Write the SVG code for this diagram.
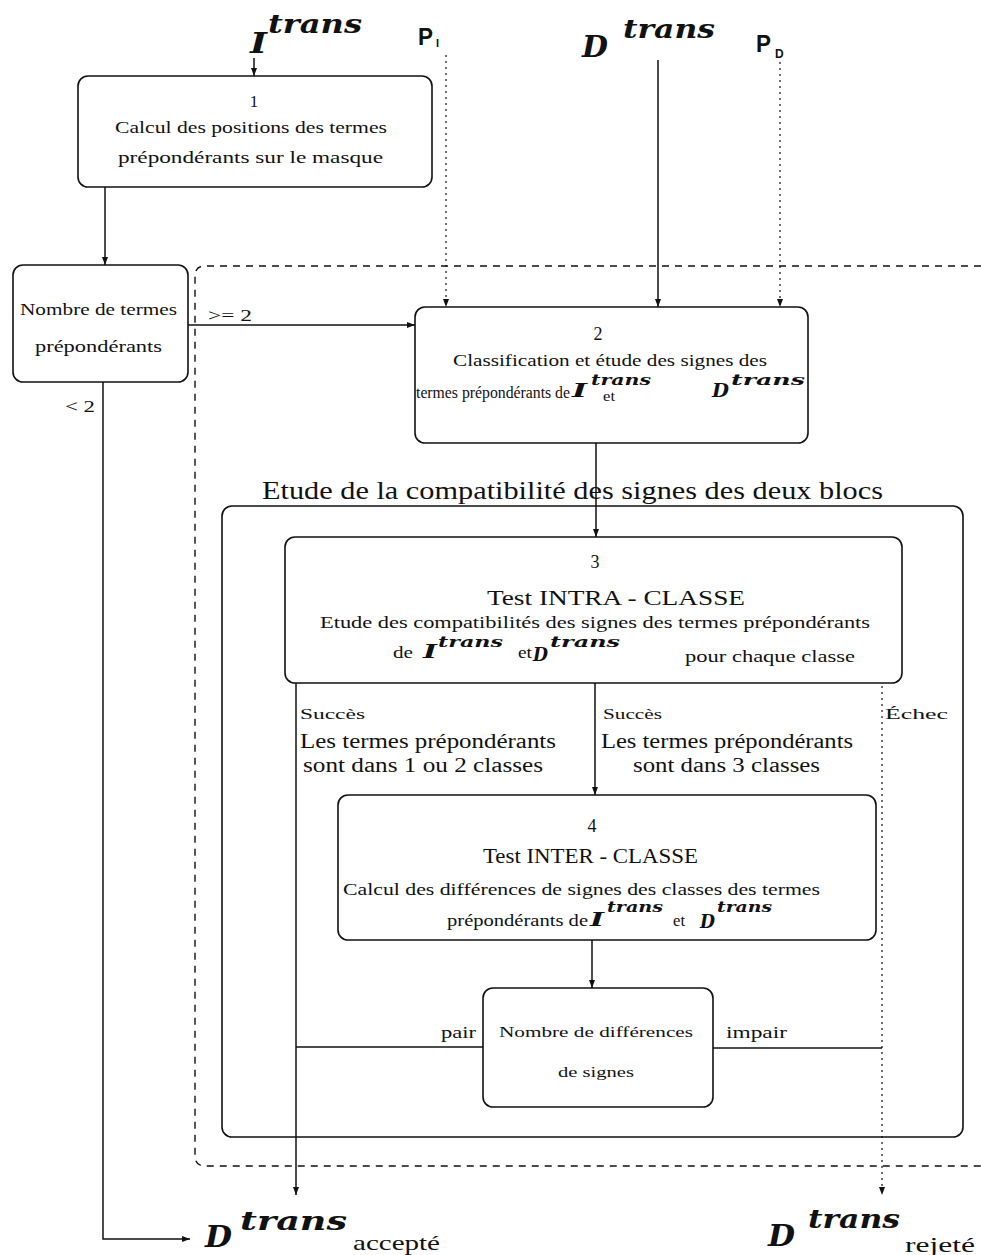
<svg xmlns="http://www.w3.org/2000/svg" width="981" height="1255" viewBox="0 0 981 1255">
  <style>
    .box { fill: none; stroke: #111; stroke-width: 1.6; }
    .ln { fill: none; stroke: #111; stroke-width: 1.5; }
    .dot { stroke-dasharray: 2 4; stroke-width: 1.2; }
    .dash { stroke-dasharray: 7 6; stroke-width: 1.4; }
    text { fill: #111; }
    .t { font-family: "Liberation Serif", "Times New Roman", serif; }
    .bi { font-family: "DejaVu Serif", "Liberation Serif", serif; font-weight: bold; font-style: italic; }
    .p { font-family: "Liberation Sans", Arial, sans-serif; font-weight: bold; }
  </style>
  <defs>
    <marker id="arr" markerUnits="userSpaceOnUse" markerWidth="8" markerHeight="8" refX="8" refY="3" orient="auto">
      <path d="M0,0 L8,3 L0,6 z" fill="#111"/>
    </marker>
  </defs>

  <rect width="981" height="1255" fill="#fff"/>

  <!-- inputs -->
  <g id="input-I">
    <text class="bi" x="250" y="53" font-size="28" textLength="17" lengthAdjust="spacingAndGlyphs">I</text>
    <text class="bi" x="268" y="33" font-size="26" textLength="94" lengthAdjust="spacingAndGlyphs">trans</text>
  </g>
  <g id="input-PI">
    <text class="p" x="418" y="45" font-size="24" textLength="15" lengthAdjust="spacingAndGlyphs">P</text>
    <text class="p" x="436" y="47" font-size="11">I</text>
  </g>
  <g id="input-D">
    <text class="bi" x="582" y="57" font-size="30" textLength="26" lengthAdjust="spacingAndGlyphs">D</text>
    <text class="bi" x="623" y="38" font-size="26" textLength="92" lengthAdjust="spacingAndGlyphs">trans</text>
  </g>
  <g id="input-PD">
    <text class="p" x="756" y="52" font-size="24" textLength="15" lengthAdjust="spacingAndGlyphs">P</text>
    <text class="p" x="775" y="58" font-size="12">D</text>
  </g>

  <!-- step 1 -->
  <g id="node-1">
    <rect class="box" x="78" y="76" width="354" height="111" rx="10"/>
    <text class="t" x="254" y="107" font-size="17" text-anchor="middle">1</text>
    <text class="t" x="115" y="133" font-size="17" textLength="272" lengthAdjust="spacingAndGlyphs">Calcul des positions des termes</text>
    <text class="t" x="118" y="163" font-size="17" textLength="265" lengthAdjust="spacingAndGlyphs">prépondérants sur le masque</text>
  </g>

  <!-- count decision -->
  <g id="node-count">
    <rect class="box" x="13" y="265" width="175" height="117" rx="10"/>
    <text class="t" x="20" y="315" font-size="16" textLength="157" lengthAdjust="spacingAndGlyphs">Nombre de termes</text>
    <text class="t" x="35" y="352" font-size="16" textLength="127" lengthAdjust="spacingAndGlyphs">prépondérants</text>
  </g>

  <!-- dashed frame -->
  <g id="frame-dashed">
    <path class="ln dash" d="M981,266 H205 Q195,266 195,276 V1156 Q195,1166 205,1166 H981"/>
  </g>

  <!-- step 2 -->
  <g id="node-2">
    <rect class="box" x="415" y="307" width="393" height="136" rx="10"/>
    <text class="t" x="598" y="340" font-size="18" text-anchor="middle">2</text>
    <text class="t" x="453" y="366" font-size="17" textLength="314" lengthAdjust="spacingAndGlyphs">Classification et étude des signes des</text>
    <text class="t" x="416" y="398" font-size="16" textLength="154" lengthAdjust="spacingAndGlyphs">termes prépondérants de</text>
    <text class="bi" x="572" y="397" font-size="19" textLength="15" lengthAdjust="spacingAndGlyphs">I</text>
    <text class="bi" x="591" y="385" font-size="14" textLength="60" lengthAdjust="spacingAndGlyphs">trans</text>
    <text class="t" x="603" y="401" font-size="14" textLength="12" lengthAdjust="spacingAndGlyphs">et</text>
    <text class="bi" x="712" y="397" font-size="19" textLength="17" lengthAdjust="spacingAndGlyphs">D</text>
    <text class="bi" x="731" y="385" font-size="14" textLength="74" lengthAdjust="spacingAndGlyphs">trans</text>
  </g>

  <!-- compatibility study frame -->
  <g id="frame-compat">
    <text class="t" x="262" y="499" font-size="26" textLength="621" lengthAdjust="spacingAndGlyphs">Etude de la compatibilité des signes des deux blocs</text>
    <rect class="box" x="222" y="506" width="741" height="631" rx="10"/>
  </g>

  <!-- step 3 -->
  <g id="node-3">
    <rect class="box" x="285" y="537" width="617" height="146" rx="10"/>
    <text class="t" x="595" y="568" font-size="18" text-anchor="middle">3</text>
    <text class="t" x="487" y="605" font-size="20" textLength="258" lengthAdjust="spacingAndGlyphs">Test INTRA - CLASSE</text>
    <text class="t" x="320" y="628" font-size="16" textLength="550" lengthAdjust="spacingAndGlyphs">Etude des compatibilités des signes des termes prépondérants</text>
    <text class="t" x="393" y="658" font-size="16" textLength="20" lengthAdjust="spacingAndGlyphs">de</text>
    <text class="bi" x="423" y="658" font-size="18" textLength="14" lengthAdjust="spacingAndGlyphs">I</text>
    <text class="bi" x="438" y="647" font-size="14" textLength="65" lengthAdjust="spacingAndGlyphs">trans</text>
    <text class="t" x="518" y="658" font-size="16" textLength="14" lengthAdjust="spacingAndGlyphs">et</text>
    <text class="bi" x="533" y="661" font-size="18" textLength="15" lengthAdjust="spacingAndGlyphs">D</text>
    <text class="bi" x="550" y="647" font-size="14" textLength="70" lengthAdjust="spacingAndGlyphs">trans</text>
    <text class="t" x="685" y="662" font-size="16" textLength="170" lengthAdjust="spacingAndGlyphs">pour chaque classe</text>
  </g>

  <!-- outcome labels of step 3 -->
  <g id="labels-3">
    <text class="t" x="300" y="719" font-size="15" textLength="65" lengthAdjust="spacingAndGlyphs">Succès</text>
    <text class="t" x="300" y="748" font-size="20" textLength="256" lengthAdjust="spacingAndGlyphs">Les termes prépondérants</text>
    <text class="t" x="303" y="772" font-size="20" textLength="240" lengthAdjust="spacingAndGlyphs">sont dans 1 ou 2 classes</text>
    <text class="t" x="603" y="719" font-size="15" textLength="59" lengthAdjust="spacingAndGlyphs">Succès</text>
    <text class="t" x="601" y="748" font-size="20" textLength="252" lengthAdjust="spacingAndGlyphs">Les termes prépondérants</text>
    <text class="t" x="633" y="772" font-size="20" textLength="187" lengthAdjust="spacingAndGlyphs">sont dans 3 classes</text>
    <text class="t" x="885" y="719" font-size="15" textLength="63" lengthAdjust="spacingAndGlyphs">Échec</text>
  </g>

  <!-- step 4 -->
  <g id="node-4">
    <rect class="box" x="338" y="795" width="538" height="145" rx="10"/>
    <text class="t" x="592" y="832" font-size="18" text-anchor="middle">4</text>
    <text class="t" x="483" y="863" font-size="20" textLength="215" lengthAdjust="spacingAndGlyphs">Test INTER - CLASSE</text>
    <text class="t" x="343" y="895" font-size="16" textLength="477" lengthAdjust="spacingAndGlyphs">Calcul des différences de signes des classes des termes</text>
    <text class="t" x="447" y="926" font-size="16" textLength="141" lengthAdjust="spacingAndGlyphs">prépondérants de</text>
    <text class="bi" x="590" y="926" font-size="18" textLength="14" lengthAdjust="spacingAndGlyphs">I</text>
    <text class="bi" x="607" y="912" font-size="14" textLength="56" lengthAdjust="spacingAndGlyphs">trans</text>
    <text class="t" x="673" y="926" font-size="16" textLength="12" lengthAdjust="spacingAndGlyphs">et</text>
    <text class="bi" x="700" y="928" font-size="18" textLength="15" lengthAdjust="spacingAndGlyphs">D</text>
    <text class="bi" x="717" y="912" font-size="14" textLength="55" lengthAdjust="spacingAndGlyphs">trans</text>
  </g>

  <!-- parity decision -->
  <g id="node-parity">
    <rect class="box" x="483" y="988" width="230" height="119" rx="10"/>
    <text class="t" x="499" y="1037" font-size="15" textLength="194" lengthAdjust="spacingAndGlyphs">Nombre de différences</text>
    <text class="t" x="558" y="1077" font-size="15" textLength="76" lengthAdjust="spacingAndGlyphs">de signes</text>
  </g>

  <!-- outputs -->
  <g id="output-accepted">
    <text class="bi" x="205" y="1247" font-size="30" textLength="27" lengthAdjust="spacingAndGlyphs">D</text>
    <text class="bi" x="240" y="1230" font-size="26" textLength="107" lengthAdjust="spacingAndGlyphs">trans</text>
    <text class="t" x="353" y="1250" font-size="22" textLength="87" lengthAdjust="spacingAndGlyphs">accepté</text>
  </g>
  <g id="output-rejected">
    <text class="bi" x="768" y="1246" font-size="30" textLength="27" lengthAdjust="spacingAndGlyphs">D</text>
    <text class="bi" x="808" y="1228" font-size="26" textLength="92" lengthAdjust="spacingAndGlyphs">trans</text>
    <text class="t" x="905" y="1252" font-size="22" textLength="70" lengthAdjust="spacingAndGlyphs">rejeté</text>
  </g>

  <!-- connectors -->
  <g id="connectors">
    <line class="ln" x1="254" y1="58" x2="254" y2="76" marker-end="url(#arr)"/>
    <line class="ln dot" x1="446" y1="55" x2="446" y2="307" marker-end="url(#arr)"/>
    <line class="ln" x1="658" y1="60" x2="658" y2="307" marker-end="url(#arr)"/>
    <line class="ln dot" x1="780" y1="62" x2="780" y2="307" marker-end="url(#arr)"/>
    <line class="ln" x1="105" y1="187" x2="105" y2="265" marker-end="url(#arr)"/>
    <line class="ln" x1="188" y1="325" x2="415" y2="325" marker-end="url(#arr)"/>
    <text class="t" x="208" y="321" font-size="17" textLength="44" lengthAdjust="spacingAndGlyphs">&gt;= 2</text>
    <path class="ln" d="M103,382 V1239 H190" marker-end="url(#arr)"/>
    <text class="t" x="65" y="412" font-size="17" textLength="30" lengthAdjust="spacingAndGlyphs">&lt; 2</text>
    <line class="ln" x1="596" y1="443" x2="596" y2="537" marker-end="url(#arr)"/>
    <line class="ln" x1="296" y1="683" x2="296" y2="1195" marker-end="url(#arr)"/>
    <line class="ln" x1="595" y1="683" x2="595" y2="795" marker-end="url(#arr)"/>
    <line class="ln dot" x1="882" y1="686" x2="882" y2="1195" marker-end="url(#arr)"/>
    <line class="ln" x1="592" y1="940" x2="592" y2="988" marker-end="url(#arr)"/>
    <line class="ln" x1="483" y1="1047" x2="296" y2="1047"/>
    <text class="t" x="441" y="1038" font-size="17" textLength="35" lengthAdjust="spacingAndGlyphs">pair</text>
    <line class="ln" x1="713" y1="1048" x2="882" y2="1048"/>
    <text class="t" x="726" y="1038" font-size="17" textLength="61" lengthAdjust="spacingAndGlyphs">impair</text>
  </g>
</svg>
